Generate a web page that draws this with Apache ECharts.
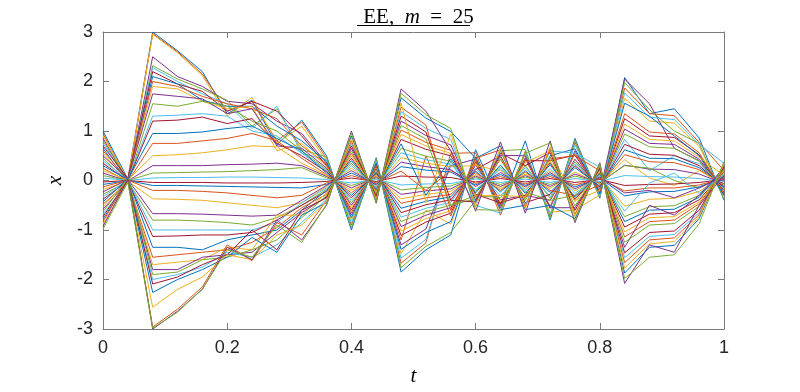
<!DOCTYPE html>
<html>
<head>
<meta charset="utf-8">
<script src="https://cdn.jsdelivr.net/npm/echarts@6/dist/echarts.min.js"></script>
<style>
  html, body { margin: 0; padding: 0; background: #fff; }
  #chart { width: 800px; height: 392px; }
</style>
</head>
<body>
<div id="chart"></div>
<script>
// time grid, m = 25 steps
const tSteps = [0, 0.04, 0.08, 0.12, 0.16, 0.2, 0.24, 0.28, 0.32, 0.36, 0.4, 0.44, 0.48,
  0.52, 0.56, 0.6, 0.64, 0.68, 0.72, 0.76, 0.8, 0.84, 0.88, 0.92, 0.96, 1];

// runs starting above zero (x0 = 1 ... 0.05)
const upperRuns = [
  [1.0, 0.03, 3.0, 2.62, 2.2, 1.35, 1.62, 0.72, 1.22, 0.5, -1.0, 0.46, -1.85, -1.4, -1.1, 0.62, -0.5, 0.8, -0.8, 0.85, -0.36, 2.08, 1.35, 1.45, 0.86, -0.4],
  [0.95, -0.02, 2.97, 2.6, 2.15, 1.4, 1.6, 0.8, 1.18, 0.45, -0.9, 0.41, -1.67, -1.26, 0.55, 0.56, -0.7, 0.59, -0.72, 0.77, -0.32, 1.87, 1.35, 1.31, 0.77, 0.2],
  [0.9, 0.02, 2.95, 2.58, 2.12, 1.3, 1.68, 0.75, 1.1, 0.4, -0.8, 0.37, -1.48, -0.6, -0.88, 0.5, -0.62, 0.53, -0.64, -0.6, -0.29, 1.66, 1.2, 1.16, 0.69, -0.32],
  [0.85, -0.03, 2.5, 2.1, 1.9, 1.6, 1.55, 1.2, 0.95, 0.35, -0.7, 0.32, -1.3, -0.98, 0.3, 0.43, -0.55, 0.46, -0.56, 0.6, -0.25, 2.05, 1.55, 0.65, 0.4, -0.28],
  [0.8, 0.01, 2.32, 2.05, 1.85, 1.62, 1.1, 1.45, 0.62, 0.48, -0.95, 0.44, -1.76, -1.33, -1.05, -0.4, 0.6, 0.63, -0.76, 0.81, -0.34, 1.98, 1.43, 1.0, 0.75, -0.38],
  [0.75, -0.01, 2.28, 2.0, 1.75, 1.55, 1.05, 1.5, 0.55, 0.42, -0.85, 0.39, -1.57, -1.19, 0.4, -0.5, -0.66, 0.56, -0.68, 0.72, -0.31, 1.77, 1.28, 1.23, 0.73, 0.35],
  [0.7, 0.04, 2.2, 1.95, 1.8, 1.4, 1.6, 1.4, 0.9, 0.3, -0.6, 0.28, -1.11, -0.84, -0.66, 0.37, -0.47, 0.4, 0.4, 0.51, -0.22, 1.25, 0.9, 0.87, 0.52, -0.24],
  [0.65, -0.04, 2.1, 1.95, 1.62, 1.5, 1.5, 1.1, 0.8, 0.38, -0.75, 0.35, -1.39, -1.05, -0.83, 0.47, -0.59, -0.5, 0.5, 0.64, -0.27, 1.56, 1.3, 0.9, 0.5, -0.3],
  [0.6, 0.02, 2.0, 1.9, 1.7, 1.55, 1.45, 1.25, 0.7, 0.33, -0.65, 0.3, -1.2, 0.5, -0.72, 0.4, -0.51, 0.43, -0.52, 0.55, -0.23, 1.35, 0.98, 0.94, 0.56, -0.26],
  [0.55, -0.02, 1.9, 1.85, 1.6, 1.45, 1.5, 0.6, 0.75, 0.28, -0.55, 0.25, -1.02, -0.77, -0.61, 0.34, -0.43, 0.36, 0.6, -0.4, -0.2, 1.14, 0.83, 0.8, 0.47, 0.1],
  [0.5, 0.03, 1.75, 1.7, 1.65, 1.35, 1.45, 0.7, 0.65, 0.25, -0.5, 0.23, -0.93, -0.7, -0.55, 0.31, -0.39, -0.3, -0.4, 0.43, -0.18, 1.04, 0.75, 0.73, 0.43, -0.2],
  [0.45, -0.03, 1.55, 1.5, 1.6, 1.5, 1.2, 1.0, 0.6, 0.22, -0.45, 0.21, -0.83, -0.63, -0.5, -0.3, -0.35, 0.3, -0.36, 0.38, -0.16, 0.94, 0.68, 0.65, 0.39, -0.18],
  [0.4, 0.01, 1.3, 1.32, 1.35, 1.3, 1.0, 0.9, 0.55, 0.2, -0.4, 0.18, -0.74, -0.56, -0.44, 0.25, -0.31, 0.26, -0.32, 0.34, -0.14, 0.83, 0.2, 0.5, 0.34, -0.16],
  [0.35, -0.01, 1.2, 1.22, 1.28, 1.15, 1.25, 0.75, 0.5, 0.18, -0.35, 0.16, -0.65, -0.49, -0.39, 0.22, 0.5, -0.45, -0.28, 0.3, -0.13, 0.73, 0.53, 0.51, 0.3, -0.14],
  [0.3, 0.02, 0.95, 0.95, 0.98, 1.05, 1.1, 0.85, 0.6, 0.15, -0.3, 0.14, -0.56, -0.42, -0.33, 0.19, -0.23, 0.2, -0.24, 0.26, -0.11, 0.62, 0.45, 0.44, 0.26, -0.12],
  [0.25, -0.02, 0.75, 0.75, 0.8, 0.85, 0.95, 0.8, 0.45, 0.12, -0.25, 0.12, -0.46, -0.35, -0.28, 0.16, -0.2, 0.17, -0.2, -0.3, -0.09, 0.52, 0.38, 0.36, 0.22, -0.1],
  [0.2, 0.01, 0.5, 0.52, 0.56, 0.62, 0.7, 0.68, 0.35, 0.1, -0.2, 0.09, -0.37, -0.28, -0.22, 0.12, -0.16, 0.13, -0.16, 0.17, -0.07, 0.42, 0.05, -0.1, 0.2, -0.08],
  [0.15, -0.01, 0.3, 0.3, 0.3, 0.32, 0.33, 0.35, 0.3, 0.08, -0.15, 0.07, -0.28, -0.21, -0.17, 0.09, -0.12, 0.1, -0.12, 0.13, -0.05, 0.31, 0.23, 0.22, 0.13, -0.06],
  [0.1, 0.0, 0.15, 0.16, 0.17, 0.18, 0.2, 0.22, 0.26, 0.05, -0.1, 0.05, -0.19, -0.14, -0.11, 0.06, -0.08, 0.07, -0.08, 0.09, -0.04, 0.3, 0.25, 0.0, -0.15, 0.1],
  [0.05, 0.0, 0.05, 0.06, 0.06, 0.07, 0.07, 0.06, 0.05, 0.02, -0.05, 0.02, -0.09, -0.07, -0.06, 0.03, -0.04, 0.03, -0.04, 0.04, -0.02, 0.1, 0.08, 0.07, 0.04, -0.02]
];

// runs starting below zero (x0 = -0.98 ... -0.03)
const lowerRuns = [
  [-0.98, -0.03, -2.98, -2.66, -2.19, -1.4, -1.55, -0.9, -1.25, -0.48, 0.95, -0.44, 1.76, 1.33, 1.05, -0.59, -0.6, 0.55, 0.76, -0.81, 0.34, -1.98, -1.55, -1.5, -0.87, 0.38],
  [-0.93, 0.02, -3.0, -2.64, -2.2, -1.35, -1.6, -0.8, -1.2, -0.5, 1.0, -0.46, 1.85, 1.4, 0.6, -0.62, 0.78, -0.66, 0.8, -0.85, 0.36, -2.08, -1.3, -1.45, -0.5, 0.1],
  [-0.88, -0.02, -2.56, -2.2, -1.95, -1.5, -1.6, -1.1, -0.9, -0.42, 0.85, -0.39, 1.57, -0.45, 0.94, -0.53, 0.66, -0.56, 0.68, -0.72, 0.31, -1.77, -1.28, -1.23, -0.73, 0.34],
  [-0.83, 0.03, -2.96, -2.6, -2.15, -1.3, -1.62, -0.85, -1.1, -0.4, 0.8, -0.37, 1.48, 1.12, -0.6, 0.45, 0.62, -0.53, 0.64, -0.68, 0.29, -1.66, -1.2, -1.16, -0.69, 0.32],
  [-0.78, -0.01, -2.26, -2.0, -1.8, -1.55, -1.15, -1.45, -0.7, -0.45, 0.9, -0.41, 1.67, 1.26, 0.99, 0.45, 0.7, -0.59, -0.5, -0.77, 0.32, -1.87, -1.35, -1.31, -0.77, 0.36],
  [-0.73, 0.01, -2.09, -1.95, -1.7, -1.5, -1.0, -1.4, -0.6, -0.35, 0.7, -0.32, 1.3, 0.98, -0.4, -0.43, 0.55, 0.3, 0.56, -0.6, 0.25, -1.46, -1.05, -1.02, -0.6, 0.28],
  [-0.68, -0.04, -2.0, -1.9, -1.75, -1.45, -1.55, -1.3, -0.85, -0.38, 0.75, -0.35, 1.39, 1.05, 0.83, -0.47, 0.59, -0.5, 0.6, 0.55, 0.27, -1.56, -1.13, -1.09, -0.65, 0.3],
  [-0.63, 0.04, -1.9, -1.85, -1.6, -1.55, -1.4, -1.2, -0.75, -0.3, 0.6, -0.28, 1.11, 0.84, -0.5, -0.37, 0.47, -0.4, 0.48, -0.51, 0.22, -1.25, -0.9, -0.87, -0.52, 0.24],
  [-0.58, -0.02, -1.8, -1.8, -1.55, -1.5, -1.45, -1.05, -0.65, -0.33, 0.65, -0.3, 1.2, 0.91, 0.72, -0.4, 0.51, 0.5, -0.55, -0.55, 0.23, -1.35, -0.5, -0.7, -0.3, 0.26],
  [-0.53, 0.02, -1.7, -1.65, -1.6, -1.35, -1.4, -0.7, -0.7, -0.25, 0.5, -0.23, 0.93, 0.7, 0.55, -0.31, -0.3, -0.33, 0.4, -0.43, 0.18, -1.04, -0.75, -0.73, -0.43, 0.2],
  [-0.48, -0.03, -1.55, -1.5, -1.45, -1.4, -1.25, -0.95, -0.55, -0.28, 0.55, -0.25, 1.02, 0.77, 0.61, -0.34, 0.43, -0.36, 0.44, 0.5, 0.2, -1.14, -0.83, -0.8, -0.47, 0.22],
  [-0.43, 0.03, -1.35, -1.35, -1.4, -1.2, -1.1, -1.0, -0.6, -0.2, 0.4, -0.18, 0.74, -0.3, 0.44, -0.25, 0.31, -0.26, 0.32, -0.34, 0.14, -0.83, -0.6, -0.58, -0.34, 0.25],
  [-0.38, -0.01, -1.13, -1.12, -1.1, -1.1, -1.05, -0.8, -0.5, -0.22, 0.45, -0.21, 0.83, 0.63, 0.5, -0.28, -0.45, -0.3, 0.36, -0.38, 0.16, -0.94, -0.68, -0.65, -0.39, 0.18],
  [-0.33, 0.01, -1.0, -1.0, -1.0, -1.0, -1.0, -0.85, -0.45, -0.15, 0.3, -0.14, 0.56, 0.42, 0.33, -0.19, 0.23, -0.2, 0.24, -0.26, 0.11, -0.62, -0.05, 0.15, -0.26, 0.12],
  [-0.28, -0.02, -0.8, -0.8, -0.82, -0.85, -0.9, -0.75, -0.5, -0.18, 0.35, -0.16, 0.65, 0.49, 0.39, -0.22, 0.27, -0.23, -0.4, -0.3, 0.13, -0.73, -0.53, -0.51, -0.3, 0.14],
  [-0.23, 0.02, -0.67, -0.67, -0.68, -0.7, -0.72, -0.7, -0.4, -0.1, 0.2, -0.09, 0.37, 0.28, 0.22, -0.12, 0.16, -0.13, 0.16, -0.17, 0.07, -0.25, -0.2, -0.35, -0.15, 0.08],
  [-0.18, -0.01, -0.37, -0.38, -0.4, -0.45, -0.5, -0.55, -0.45, -0.12, 0.25, -0.12, 0.46, 0.35, 0.28, 0.3, 0.2, -0.17, 0.2, -0.21, 0.09, -0.52, -0.38, -0.36, -0.22, 0.1],
  [-0.13, 0.01, -0.2, -0.2, -0.22, -0.25, -0.3, -0.35, -0.3, -0.05, 0.1, -0.05, 0.19, -0.2, 0.2, -0.06, 0.08, -0.07, 0.08, -0.09, 0.04, -0.21, -0.15, -0.15, -0.09, 0.04],
  [-0.08, 0.0, -0.1, -0.1, -0.11, -0.12, -0.13, -0.14, -0.15, -0.08, 0.15, -0.07, 0.28, 0.21, 0.17, -0.09, 0.12, -0.1, 0.12, -0.13, 0.05, -0.31, -0.23, -0.22, -0.13, 0.06],
  [-0.03, 0.0, -0.04, -0.04, -0.04, -0.05, -0.05, -0.05, -0.04, -0.02, 0.05, -0.02, 0.09, 0.07, 0.06, -0.03, 0.04, -0.03, 0.04, -0.04, 0.02, -0.1, -0.08, -0.07, -0.04, 0.02]
];

const xTicks = [0, 0.2, 0.4, 0.6, 0.8, 1];
const yTicks = [-3, -2, -1, 0, 1, 2, 3];

// matlab default line colours
const colors = ['#0072BD', '#D95319', '#EDB120', '#7E2F8E', '#77AC30', '#4DBEEE', '#A2142F'];

const axisCol = '#7a7a7a';
const textCol = '#262626';
const labelFont = { fontFamily: 'Liberation Sans', fontSize: 18, color: textCol };
const serif = { fontFamily: 'Liberation Serif', fontSize: 21, fontWeight: 'normal', color: '#000' };

const runs = upperRuns.concat(lowerRuns.slice().reverse());
const series = runs.map((row, k) => ({
  type: 'line',
  data: row.map((v, i) => [tSteps[i], v]),
  symbol: 'none',
  lineStyle: { width: 1, color: colors[k % colors.length] },
  itemStyle: { color: colors[k % colors.length] },
  animation: false,
  silent: true
}));

const boxAxis = {
  axisLine: { show: true, onZero: false, lineStyle: { color: axisCol, width: 1 } },
  axisTick: { show: true, inside: true, length: 6, lineStyle: { color: axisCol } },
  splitLine: { show: false }
};

const chart = echarts.init(document.getElementById('chart'), null, { renderer: 'canvas' });
chart.setOption({
  backgroundColor: '#fff',
  animation: false,
  color: colors,
  title: {
    text: '{a|EE,  }{b|m}{a|  =  25}',
    left: 413.5,
    textAlign: 'center',
    top: 2,
    textStyle: {
      fontWeight: 'normal',
      rich: {
        a: serif,
        b: Object.assign({}, serif, { fontStyle: 'italic' })
      }
    }
  },
  graphic: [{
    type: 'line',
    shape: { x1: 357, y1: 25.5, x2: 470, y2: 25.5 },
    style: { stroke: '#000', lineWidth: 1 }
  }],
  grid: { left: 103, right: 76, top: 32, bottom: 58, containLabel: false },
  xAxis: [
    Object.assign({
      type: 'value', min: xTicks[0], max: xTicks[xTicks.length - 1], interval: 0.2,
      name: 't', nameLocation: 'middle', nameGap: 37,
      nameTextStyle: { fontFamily: 'Liberation Serif', fontStyle: 'italic', fontSize: 21, color: '#000' },
      axisLabel: Object.assign({ margin: 10 }, labelFont)
    }, boxAxis),
    Object.assign({
      type: 'value', position: 'top', min: 0, max: 1, interval: 0.2,
      axisLabel: { show: false }
    }, boxAxis)
  ],
  yAxis: [
    Object.assign({
      type: 'value', min: yTicks[0], max: yTicks[yTicks.length - 1], interval: 1,
      name: 'x', nameLocation: 'middle', nameGap: 28,
      nameTextStyle: { fontFamily: 'Liberation Serif', fontStyle: 'italic', fontSize: 21, color: '#000' },
      axisLabel: Object.assign({ margin: 10 }, labelFont)
    }, boxAxis),
    Object.assign({
      type: 'value', position: 'right', min: -3, max: 3, interval: 1,
      axisLabel: { show: false }
    }, boxAxis)
  ],
  series: series
});
</script>
</body>
</html>
